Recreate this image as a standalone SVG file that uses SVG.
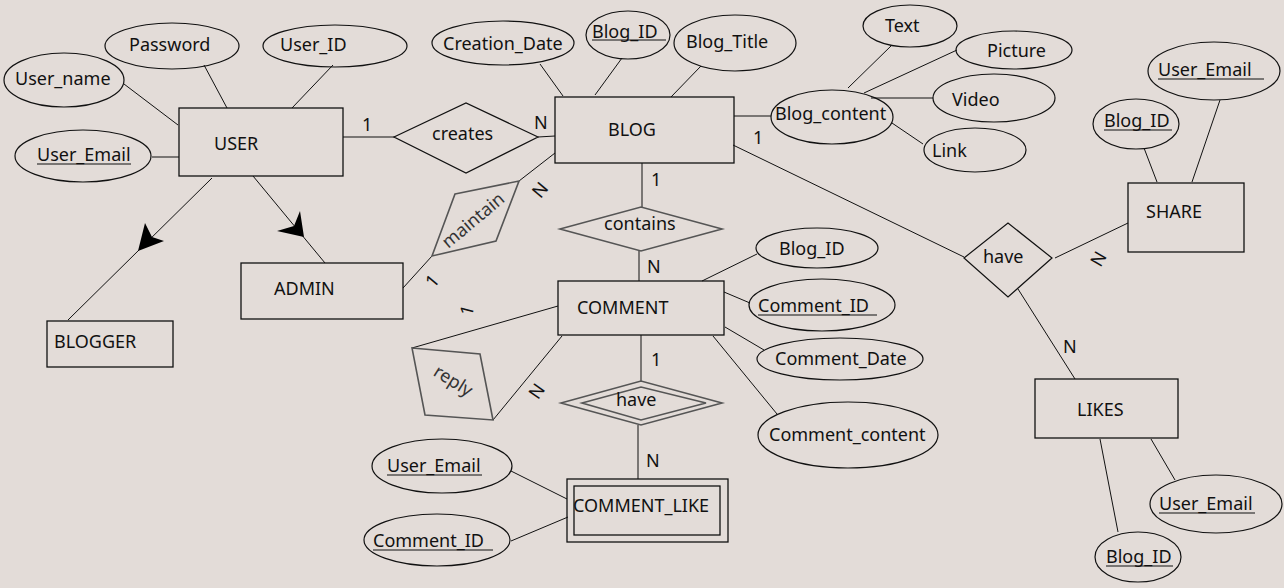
<svg xmlns="http://www.w3.org/2000/svg" width="1284" height="588" viewBox="0 0 1284 588">
<style>
text{font-family:"Noto Sans","Open Sans","DejaVu Sans",sans-serif;font-size:18px;fill:#111}
.e{fill:none;stroke:#111;stroke-width:1.2}
.r{fill:none;stroke:#111;stroke-width:1.3}
.d{fill:none;stroke:#111;stroke-width:1.2}
.g{fill:none;stroke:#555;stroke-width:1.6}
.c line,.c polyline{stroke:#111;stroke-width:1}
.u{stroke:#111;stroke-width:1.2}
.gt{fill:#333}
</style>
<rect width="1284" height="588" fill="#E3DCD8"/>
<g class="c" id="connectors">
<line x1="124" y1="84" x2="178" y2="125"/>
<line x1="204" y1="65" x2="227" y2="108"/>
<line x1="333" y1="65" x2="292" y2="108"/>
<line x1="152" y1="157" x2="179" y2="157"/>
<line x1="343" y1="137" x2="395" y2="137"/>
<line x1="212" y1="178" x2="68" y2="320"/>
<line x1="253" y1="176" x2="325" y2="263"/>
<line x1="538" y1="137" x2="555" y2="136"/>
<line x1="540" y1="64" x2="563" y2="96"/>
<line x1="622" y1="58" x2="595" y2="95"/>
<line x1="701" y1="66" x2="671" y2="97"/>
<line x1="734" y1="116" x2="771" y2="116"/>
<line x1="848" y1="88" x2="892" y2="45"/>
<line x1="864" y1="93" x2="957" y2="50"/>
<line x1="871" y1="98" x2="933" y2="98"/>
<line x1="892" y1="123" x2="923" y2="144"/>
<line x1="733" y1="145" x2="964" y2="257"/>
<line x1="1055" y1="258" x2="1128" y2="223"/>
<line x1="1144" y1="148" x2="1157" y2="182"/>
<line x1="1220" y1="100" x2="1192" y2="182"/>
<line x1="1018" y1="289" x2="1075" y2="379"/>
<line x1="1151" y1="439" x2="1175" y2="480"/>
<line x1="1100" y1="439" x2="1118" y2="532"/>
<line x1="555" y1="153" x2="519" y2="181"/>
<line x1="432" y1="256" x2="403" y2="288"/>
<line x1="642" y1="163" x2="642" y2="207"/>
<line x1="639" y1="251" x2="639" y2="281"/>
<line x1="702" y1="281" x2="757" y2="254"/>
<line x1="724" y1="292" x2="750" y2="303"/>
<line x1="725" y1="327" x2="764" y2="350"/>
<line x1="713" y1="336" x2="777" y2="414"/>
<line x1="641" y1="335" x2="641" y2="381"/>
<line x1="638" y1="425" x2="638" y2="479"/>
<line x1="511" y1="471" x2="567" y2="499"/>
<line x1="511" y1="541" x2="568" y2="517"/>
<line x1="558" y1="306" x2="412" y2="348"/>
<line x1="562" y1="336" x2="493" y2="420"/>
<polygon points="138,251 145,223 152,237 164,241" fill="#000"/>
<polygon points="304,237 300,211 294,226 277,231" fill="#000"/>
<text x="362" y="131">1</text>
<text x="534" y="129">N</text>
<text x="753" y="144">1</text>
<text x="651" y="186">1</text>
<text x="647" y="273">N</text>
<text x="651" y="366">1</text>
<text x="646" y="467">N</text>
<text x="1063" y="353">N</text>
<text transform="translate(1104,262) rotate(-60)" text-anchor="middle">N</text>
<text transform="translate(545,194) rotate(-50)" text-anchor="middle">N</text>
<text transform="translate(437,285) rotate(-50)" text-anchor="middle">1</text>
<text transform="translate(473,312) rotate(-75)" text-anchor="middle">1</text>
<text transform="translate(542,395) rotate(-55)" text-anchor="middle">N</text>
</g>
<g id="user">
<rect class="r" x="179" y="108" width="164" height="68"/>
<text x="214" y="150">USER</text>
</g>
<g id="attr-user-password">
<ellipse class="e" cx="172" cy="46" rx="67" ry="23"/>
<text x="129" y="51">Password</text>
</g>
<g id="attr-user-id">
<ellipse class="e" cx="335" cy="46" rx="72" ry="21"/>
<text x="280" y="51">User_ID</text>
</g>
<g id="attr-user-name">
<ellipse class="e" cx="64" cy="80" rx="60" ry="27"/>
<text x="15" y="85">User_name</text>
</g>
<g id="attr-user-email">
<ellipse class="e" cx="83" cy="156" rx="68" ry="26"/>
<text x="37" y="161">User_Email</text>
<line class="u" x1="37" y1="164" x2="131" y2="164"/>
</g>
<g id="blogger">
<rect class="r" x="47" y="321" width="126" height="46"/>
<text x="54" y="348">BLOGGER</text>
</g>
<g id="admin">
<rect class="r" x="241" y="263" width="162" height="56"/>
<text x="274" y="295">ADMIN</text>
</g>
<g id="creates">
<polygon class="d" points="394,137 466,103 538,137 466,173"/>
<text x="432" y="140">creates</text>
</g>
<g id="blog">
<rect class="r" x="555" y="97" width="179" height="66"/>
<text x="608" y="136">BLOG</text>
</g>
<g id="attr-creation-date">
<ellipse class="e" cx="503" cy="43" rx="71" ry="22"/>
<text x="443" y="50">Creation_Date</text>
</g>
<g id="attr-blog-id">
<ellipse class="e" cx="628" cy="35" rx="42" ry="24"/>
<text x="592" y="38">Blog_ID</text>
<line class="u" x1="592" y1="40" x2="666" y2="40"/>
</g>
<g id="attr-blog-title">
<ellipse class="e" cx="735" cy="43" rx="61" ry="28"/>
<text x="686" y="48">Blog_Title</text>
</g>
<g id="attr-blog-content">
<ellipse class="e" cx="832" cy="117" rx="61" ry="27"/>
<text x="775" y="120">Blog_content</text>
</g>
<g id="attr-text">
<ellipse class="e" cx="910" cy="26" rx="47" ry="21"/>
<text x="885" y="32">Text</text>
</g>
<g id="attr-picture">
<ellipse class="e" cx="1014" cy="50" rx="58" ry="19"/>
<text x="987" y="57">Picture</text>
</g>
<g id="attr-video">
<ellipse class="e" cx="994" cy="98" rx="61" ry="24"/>
<text x="952" y="106">Video</text>
</g>
<g id="attr-link">
<ellipse class="e" cx="975" cy="150" rx="51" ry="22"/>
<text x="932" y="157">Link</text>
</g>
<g id="have-share">
<polygon class="d" points="964,258 1008,223 1052,258 1008,297"/>
<text x="983" y="263">have</text>
</g>
<g id="share">
<rect class="r" x="1128" y="183" width="116" height="69"/>
<text x="1146" y="218">SHARE</text>
</g>
<g id="attr-share-blog-id">
<ellipse class="e" cx="1136" cy="124" rx="43" ry="25"/>
<text x="1104" y="127">Blog_ID</text>
<line class="u" x1="1104" y1="130" x2="1172" y2="130"/>
</g>
<g id="attr-share-user-email">
<ellipse class="e" cx="1214" cy="71" rx="66" ry="29"/>
<text x="1158" y="76">User_Email</text>
<line class="u" x1="1158" y1="79" x2="1264" y2="79"/>
</g>
<g id="likes">
<rect class="r" x="1035" y="379" width="143" height="59"/>
<text x="1077" y="416">LIKES</text>
</g>
<g id="attr-likes-user-email">
<ellipse class="e" cx="1216" cy="504" rx="66" ry="29"/>
<text x="1159" y="510">User_Email</text>
<line class="u" x1="1159" y1="513" x2="1255" y2="513"/>
</g>
<g id="attr-likes-blog-id">
<ellipse class="e" cx="1138" cy="557" rx="43" ry="25"/>
<text x="1106" y="563">Blog_ID</text>
<line class="u" x1="1106" y1="566" x2="1173" y2="566"/>
</g>
<g id="maintain">
<polygon class="g" points="455,194 519,181 496,241 432,256"/>
<text class="gt" transform="translate(477,225) rotate(-40)" text-anchor="middle">maintain</text>
</g>
<g id="contains">
<polygon class="g" points="560,229 641,207 722,229 641,251"/>
<text x="604" y="230">contains</text>
</g>
<g id="comment">
<rect class="r" x="558" y="281" width="166" height="54"/>
<text x="577" y="314">COMMENT</text>
</g>
<g id="attr-comment-blog-id">
<ellipse class="e" cx="817" cy="248" rx="61" ry="20"/>
<text x="779" y="255">Blog_ID</text>
</g>
<g id="attr-comment-id">
<ellipse class="e" cx="822" cy="305" rx="73" ry="26"/>
<text x="758" y="312">Comment_ID</text>
<line class="u" x1="758" y1="315" x2="877" y2="315"/>
</g>
<g id="attr-comment-date">
<ellipse class="e" cx="840" cy="359" rx="83" ry="21"/>
<text x="775" y="365">Comment_Date</text>
</g>
<g id="attr-comment-content">
<ellipse class="e" cx="848" cy="435" rx="90" ry="33"/>
<text x="769" y="441">Comment_content</text>
</g>
<g id="reply">
<polygon class="g" points="412,348 480,354 493,420 425,415"/>
<text class="gt" transform="translate(450,386) rotate(32)" text-anchor="middle">reply</text>
</g>
<g id="have-comment">
<polygon class="g" points="561,403 641,381 722,403 641,425"/>
<polygon class="g" points="582,403 641,387 706,403 641,420"/>
<text x="616" y="406">have</text>
</g>
<g id="comment-like">
<rect class="r" x="567" y="479" width="161" height="63"/>
<rect class="r" x="574" y="486" width="146" height="49"/>
<text x="573" y="512">COMMENT_LIKE</text>
</g>
<g id="attr-cl-user-email">
<ellipse class="e" cx="442" cy="466" rx="70" ry="27"/>
<text x="387" y="472">User_Email</text>
<line class="u" x1="387" y1="475" x2="482" y2="475"/>
</g>
<g id="attr-cl-comment-id">
<ellipse class="e" cx="437" cy="540" rx="73" ry="26"/>
<text x="373" y="547">Comment_ID</text>
<line class="u" x1="373" y1="550" x2="493" y2="550"/>
</g>
</svg>
